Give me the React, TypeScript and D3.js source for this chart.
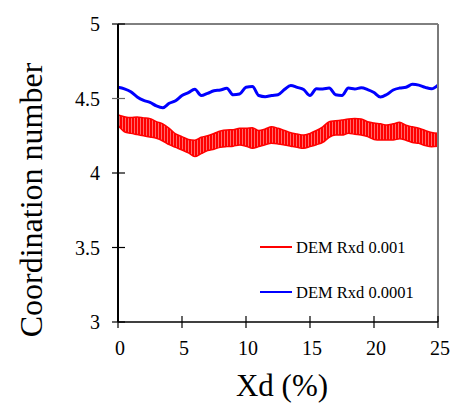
import React, { useEffect, useRef } from "react";
import * as d3 from "d3";

// x sampled every 0.5 % from 0 to 25
const xdSteps = d3.range(0, 25.001, 0.5);

// DEM Rxd 0.0001 (blue)
const blueVals = [
  4.575, 4.565, 4.545, 4.51, 4.487, 4.474, 4.45, 4.438, 4.468, 4.485,
  4.52, 4.54, 4.562, 4.52, 4.535, 4.552, 4.557, 4.568, 4.525, 4.53,
  4.575, 4.58, 4.52, 4.512, 4.52, 4.525, 4.56, 4.588, 4.575, 4.56,
  4.52, 4.565, 4.564, 4.57, 4.525, 4.52, 4.57, 4.564, 4.572, 4.56,
  4.54, 4.51, 4.527, 4.557, 4.57, 4.575, 4.595, 4.59, 4.575, 4.565,
  4.59,
];

// DEM Rxd 0.001 (red) - oscillating band, upper and lower envelope
const redHigh = [
  4.39, 4.378, 4.372, 4.376, 4.37, 4.365, 4.345, 4.33, 4.3, 4.262,
  4.244, 4.225, 4.22, 4.24, 4.25, 4.265, 4.282, 4.289, 4.29, 4.3,
  4.3, 4.304, 4.285, 4.295, 4.31, 4.3, 4.285, 4.27, 4.262, 4.255,
  4.266, 4.285, 4.31, 4.344, 4.35, 4.356, 4.362, 4.365, 4.362, 4.344,
  4.335, 4.33, 4.322, 4.33, 4.34, 4.32, 4.31, 4.3, 4.285, 4.272,
  4.266,
];
const redLow = [
  4.32, 4.277, 4.266, 4.258, 4.25, 4.242, 4.233, 4.215, 4.19, 4.172,
  4.154, 4.135, 4.11, 4.13, 4.15, 4.16, 4.172, 4.177, 4.18, 4.188,
  4.18, 4.166, 4.177, 4.19, 4.199, 4.195, 4.188, 4.18, 4.172, 4.166,
  4.177, 4.19, 4.205, 4.24, 4.255, 4.255, 4.266, 4.26, 4.255, 4.244,
  4.225, 4.221, 4.221, 4.221, 4.23, 4.22, 4.205, 4.199, 4.185, 4.177,
  4.18,
];

const xTicks = [0, 5, 10, 15, 20, 25];
const yTicks = [3, 3.5, 4, 4.5, 5];
const legendItems = [
  { label: "DEM Rxd 0.001", color: "#ff0000" },
  { label: "DEM Rxd 0.0001", color: "#0000ff" },
];

const W = 454, H = 407;
const margin = { top: 24, right: 16, bottom: 85, left: 118 };
const font = "'Liberation Serif', 'Times New Roman', serif";

export default function App() {
  const ref = useRef<SVGSVGElement>(null);

  useEffect(() => {
    const svg = d3.select(ref.current);
    svg.selectAll("*").remove();

    const x = d3.scaleLinear().domain([0, 25]).range([margin.left, W - margin.right]);
    const y = d3.scaleLinear().domain([3, 5]).range([H - margin.bottom, margin.top]);

    // stripe pattern gives the red band its vertical hatch look
    const pat = svg.append("defs").append("pattern")
      .attr("id", "redStripe")
      .attr("patternUnits", "userSpaceOnUse")
      .attr("width", 3).attr("height", 6);
    pat.append("rect").attr("width", 3).attr("height", 6).attr("fill", "#ff0000");
    pat.append("rect").attr("x", 2).attr("width", 1).attr("height", 6).attr("fill", "#ff6a6a");

    // red band
    const band = d3.area<number>()
      .x((d, i) => x(xdSteps[i]))
      .y0((d, i) => y(redLow[i]))
      .y1((d) => y(d))
      .curve(d3.curveMonotoneX);
    svg.append("path")
      .datum(redHigh)
      .attr("d", band)
      .attr("fill", "url(#redStripe)")
      .attr("stroke", "#ff0000")
      .attr("stroke-width", 1.5);

    // blue line
    const line = d3.line<number>()
      .x((d, i) => x(xdSteps[i]))
      .y((d) => y(d))
      .curve(d3.curveMonotoneX);
    svg.append("path")
      .datum(blueVals)
      .attr("d", line)
      .attr("fill", "none")
      .attr("stroke", "#0000ff")
      .attr("stroke-width", 3)
      .attr("stroke-linejoin", "round");

    // frame: top black thin, right grey
    svg.append("line")
      .attr("x1", x(0)).attr("x2", x(25)).attr("y1", y(5)).attr("y2", y(5))
      .attr("stroke", "#000").attr("stroke-width", 1);
    svg.append("line")
      .attr("x1", x(25)).attr("x2", x(25)).attr("y1", y(5)).attr("y2", y(3))
      .attr("stroke", "#7a7a7a").attr("stroke-width", 2);

    // axes with ticks crossing the axis line
    const gx = svg.append("g");
    gx.append("line")
      .attr("x1", x(0)).attr("x2", x(25)).attr("y1", y(3)).attr("y2", y(3))
      .attr("stroke", "#000").attr("stroke-width", 1.5);
    gx.selectAll(".xt").data(xTicks).join("line")
      .attr("x1", (d) => x(d)).attr("x2", (d) => x(d))
      .attr("y1", y(3) - 6).attr("y2", y(3) + 6)
      .attr("stroke", "#000").attr("stroke-width", 1.2);
    gx.selectAll(".xl").data(xTicks).join("text")
      .attr("x", (d) => x(d) + 2)
      .attr("y", y(3) + 33)
      .attr("text-anchor", "middle")
      .style("font-family", font).style("font-size", "20px")
      .text((d) => d);

    const gy = svg.append("g");
    gy.append("line")
      .attr("x1", x(0)).attr("x2", x(0)).attr("y1", y(3)).attr("y2", y(5))
      .attr("stroke", "#000").attr("stroke-width", 2);
    gy.selectAll(".yt").data(yTicks).join("line")
      .attr("x1", x(0) - 6).attr("x2", x(0) + 7)
      .attr("y1", (d) => y(d)).attr("y2", (d) => y(d))
      .attr("stroke", (d) => (d === 4.5 ? "#666" : "#000")).attr("stroke-width", 1.2);
    gy.selectAll(".yl").data(yTicks).join("text")
      .attr("x", x(0) - 18)
      .attr("y", (d) => y(d) + 7)
      .attr("text-anchor", "end")
      .style("font-family", font).style("font-size", "20px")
      .text((d) => d);

    // axis titles
    svg.append("text")
      .attr("x", 282).attr("y", 396)
      .attr("text-anchor", "middle")
      .style("font-family", font).style("font-size", "31px")
      .text("Xd (%)");
    svg.append("text")
      .attr("transform", "translate(42,200) rotate(-90)")
      .attr("text-anchor", "middle")
      .style("font-family", font).style("font-size", "32px")
      .text("Coordination number");

    // legend
    const lg = svg.append("g").selectAll("g").data(legendItems).join("g")
      .attr("transform", (d, i) => `translate(260,${247 + i * 45})`);
    lg.append("line")
      .attr("x1", 0).attr("x2", 32).attr("y1", 0).attr("y2", 0)
      .attr("stroke", (d) => d.color).attr("stroke-width", 2);
    lg.append("text")
      .attr("x", 36).attr("y", 6)
      .style("font-family", font).style("font-size", "16.5px")
      .text((d) => d.label);
  }, []);

  return (
    <svg ref={ref} width={W} height={H}
      style={{ position: "absolute", left: 0, top: 0, background: "#fff" }} />
  );
}
